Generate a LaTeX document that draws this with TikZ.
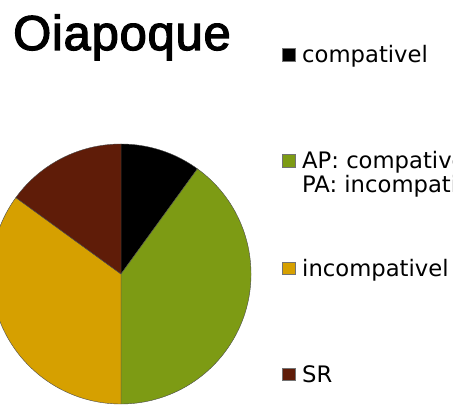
\documentclass[tikz,border=0pt]{standalone}
\usepackage{fontspec}
\setmainfont{DejaVu Sans}
\newfontfamily\titlefont[FakeBold=2.5,LetterSpace=1.5]{Liberation Sans}
\definecolor{cblack}{RGB}{0,0,0}
\definecolor{cgreen}{RGB}{125,155,20}
\definecolor{cyellow}{RGB}{214,160,0}
\definecolor{cbrown}{RGB}{95,28,8}
\tikzset{
  slice/.style={draw=black!70, line width=0.4pt},
  legsq/.style={minimum size=12.5pt, inner sep=0pt, draw=black!55, line width=0.3pt},
  legtxt/.style={anchor=base west, inner sep=0pt, font=\fontsize{22.7}{25}\selectfont},
}
\begin{document}
\begin{tikzpicture}[x=1pt,y=1pt]
\useasboundingbox (0,0) rectangle (453,406);
\clip (0,0) rectangle (453,406);
\fill[white] (0,0) rectangle (453,406);
\coordinate (C) at (121,132);
% pie slices
\fill[cblack, slice] (C) -- ++(90:130) arc[start angle=90, end angle=54, radius=130] -- cycle;
\fill[cgreen, slice] (C) -- ++(54:130) arc[start angle=54, end angle=-90, radius=130] -- cycle;
\fill[cyellow, slice] (C) -- ++(-90:130) arc[start angle=-90, end angle=-216, radius=130] -- cycle;
\fill[cbrown, slice] (C) -- ++(144:130) arc[start angle=144, end angle=90, radius=130] -- cycle;
% title
\node[anchor=base west, inner sep=0pt, font=\titlefont\fontsize{49}{55}\selectfont] (title) at (13,356) {Oiapoque};
% legend
\node[legsq, fill=cblack] (sq1) at (288.5,351.5) {};
\node[legtxt] (l1) at (302,343) {compativel};
\node[legsq, fill=cgreen] (sq2) at (288.5,245.5) {};
\node[legtxt] (l2a) at (302,237) {AP: compativel};
\node[legtxt] (l2b) at (302,213) {PA: incompativel};
\node[legsq, fill=cyellow] (sq3) at (288.5,138) {};
\node[legtxt] (l3) at (302,129) {incompativel};
\node[legsq, fill=cbrown] (sq4) at (288.5,32) {};
\node[legtxt] (l4) at (302,23) {SR};
\end{tikzpicture}
\end{document}
